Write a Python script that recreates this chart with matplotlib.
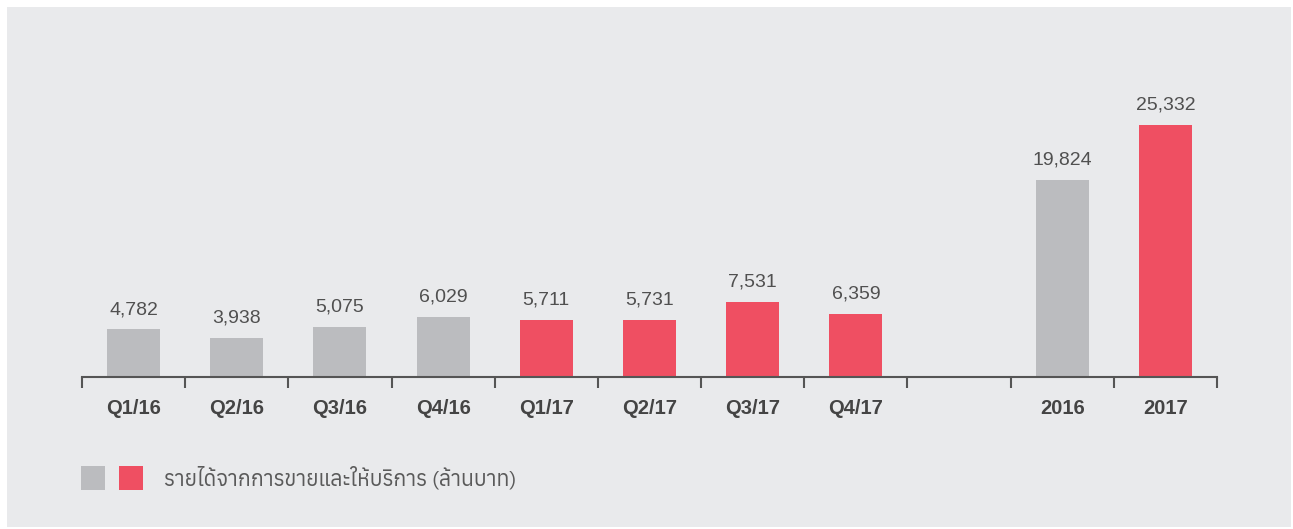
import matplotlib
matplotlib.use("Agg")
import matplotlib.pyplot as plt
from matplotlib import font_manager
from matplotlib.patches import Rectangle

categories = ["Q1/16", "Q2/16", "Q3/16", "Q4/16", "Q1/17", "Q2/17", "Q3/17", "Q4/17", "", "2016", "2017"]
values = [4782, 3938, 5075, 6029, 5711, 5731, 7531, 6359, None, 19824, 25332]
series_year = ["2016", "2016", "2016", "2016", "2017", "2017", "2017", "2017", None, "2016", "2017"]
legend_label = "รายได้จากการขายและให้บริการ (ล้านบาท)"

GRAY = "#bbbcbf"
RED = "#ef4f62"
BG = "#e9eaec"
TXT = "#444444"
colors = {"2016": GRAY, "2017": RED}

# find a font with Thai glyphs
thai_font = None
try:
    from fontTools.ttLib import TTFont
    prefs = []
    for f in font_manager.fontManager.ttflist:
        try:
            tt = TTFont(f.fname, fontNumber=0, lazy=True)
            cmap = tt.getBestCmap()
            if cmap and 0x0E23 in cmap and 0x0E49 in cmap:
                prefs.append(f)
        except Exception:
            pass
    if prefs:
        prefs.sort(key=lambda f: (0 if f.weight in (400, "normal", "regular") else 1, f.name))
        thai_font = prefs[0].name
except Exception:
    thai_font = None

W, H = 1293, 529
fig = plt.figure(figsize=(W / 100, H / 100), dpi=100)
fig.patch.set_facecolor("white")
fig.patches.append(Rectangle((7 / W, 2 / H), (1291 - 7) / W, (527 - 7) / H,
                             transform=fig.transFigure, facecolor=BG, edgecolor="none", zorder=-10))

x0, x1 = 82, 1217
ybase = 377
ytop = 25
ax = fig.add_axes([x0 / W, (H - ybase) / H, (x1 - x0) / W, (ybase - ytop) / H])
ax.set_facecolor("none")
n = len(categories)
ax.set_xlim(0, n)
px_per_unit = (377 - 125) / 25332
ax.set_ylim(0, (ybase - ytop) / px_per_unit)

bar_w = 53 / ((x1 - x0) / n)
for i, (v, s) in enumerate(zip(values, series_year)):
    if v is None:
        continue
    ax.bar(i + 0.5, v, width=bar_w, color=colors[s], zorder=2)
    ax.annotate(f"{v:,}", (i + 0.5, v), xytext=(0, 11), textcoords="offset points",
                ha="center", va="baseline", fontsize=14, color="#505050",
                family=["Liberation Sans", "DejaVu Sans"])

for sp in ["top", "right", "left"]:
    ax.spines[sp].set_visible(False)
ax.spines["bottom"].set_color("#555555")
ax.spines["bottom"].set_linewidth(1.5)
ax.set_yticks([])
ax.set_xticks(range(n + 1))
ax.set_xticklabels([])
ax.tick_params(axis="x", direction="out", length=8, width=1.5, color="#555555")
ax.set_xticks([i + 0.5 for i in range(n)], minor=True)
ax.set_xticklabels(categories, minor=True, fontsize=14.5, fontweight="bold", color=TXT,
                   family=["Liberation Sans", "DejaVu Sans"])
ax.tick_params(axis="x", which="minor", length=0, pad=16)

# legend
fig.patches.append(Rectangle((81 / W, (H - 490) / H), 24 / W, 24 / H, transform=fig.transFigure,
                             facecolor=GRAY, edgecolor="none"))
fig.patches.append(Rectangle((119 / W, (H - 490) / H), 24 / W, 24 / H, transform=fig.transFigure,
                             facecolor=RED, edgecolor="none"))
fam = [thai_font, "DejaVu Sans"] if thai_font else ["DejaVu Sans"]
fig.text(164 / W, (H - 478) / H, legend_label, ha="left", va="center", fontsize=15.3,
         color="#5a5a5a", family=fam)

fig.savefig("out.png", dpi=100, facecolor="white")
